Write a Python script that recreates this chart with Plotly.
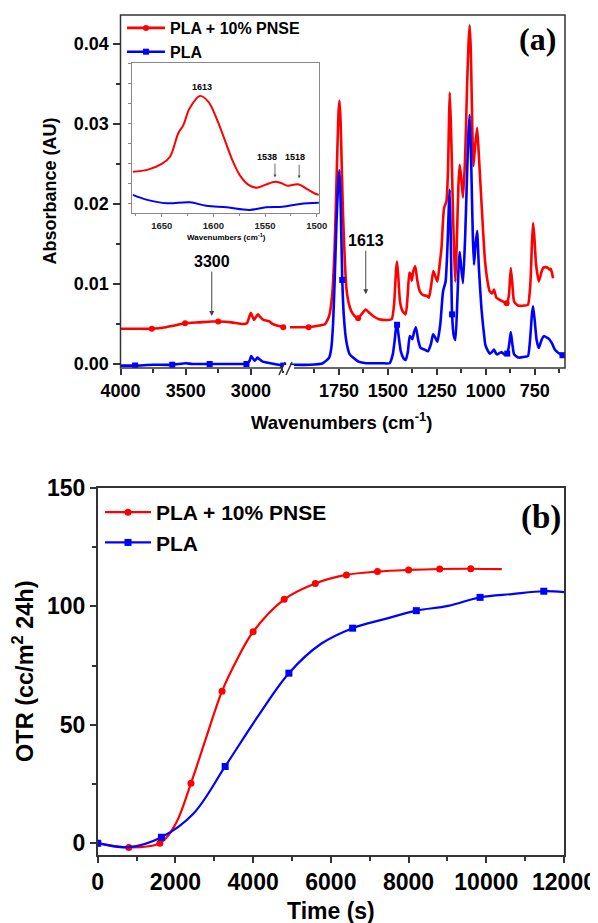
import plotly.graph_objects as go

# the page body adds an 8 px margin, so the figure is drawn 8 px smaller
# and positions below are given in window pixels minus that offset
OFF = 8
W, H = 598 - OFF, 923 - OFF


def fx(px):
    return (px - OFF) / W


def fy(py):
    return 1 - (py - OFF) / H


# ---------------- (a) FTIR spectra ----------------
wn_pnse = [4000, 3880, 3760, 3650, 3560, 3505, 3400, 3300, 3250, 3150, 3060, 3030, 3010, 3000,
           2990, 2975, 2960, 2946, 2930, 2905, 2875, 2855, 2835, 2800, 2752,
           2000, 1950, 1905, 1850, 1820, 1800, 1785, 1772, 1760, 1752, 1747, 1741, 1735, 1729,
           1720, 1712, 1700, 1687, 1670, 1652, 1635, 1613, 1595, 1570, 1545, 1500, 1480, 1468,
           1458, 1453, 1447, 1438, 1425, 1409, 1399, 1390, 1384, 1378, 1370, 1360, 1350, 1337,
           1320, 1300, 1290, 1280, 1268, 1258, 1247, 1235, 1226, 1213, 1201, 1193, 1188, 1184,
           1178, 1172, 1167, 1160, 1155, 1148, 1140, 1133, 1126, 1116, 1105, 1095, 1088, 1082,
           1076, 1069, 1063, 1055, 1044, 1035, 1022, 1005, 992, 980, 968, 958, 946, 935, 920,
           893, 882, 872, 864, 855, 835, 800, 784, 772, 764, 758, 752, 743, 729, 715, 707, 695,
           682, 675, 668, 660, 656]
ab_pnse = [0.0044, 0.0044, 0.0044, 0.0046, 0.0049, 0.0051, 0.0052, 0.0053, 0.0053, 0.0052,
           0.0050, 0.0051, 0.0060, 0.0064, 0.0060, 0.0055, 0.0059, 0.0062, 0.0059, 0.0055,
           0.0054, 0.0053, 0.0050, 0.0048, 0.0046,
           0.0046, 0.0046, 0.0046, 0.0048, 0.0050, 0.0060, 0.0085, 0.0145, 0.0250, 0.0315,
           0.0329, 0.0300, 0.0240, 0.0187, 0.0130, 0.0095, 0.0076, 0.0066, 0.0060, 0.0057,
           0.0062, 0.0068, 0.0064, 0.0059, 0.0056, 0.0055, 0.0056, 0.0075, 0.0118, 0.0128,
           0.0110, 0.0078, 0.0066, 0.0062, 0.0085, 0.0114, 0.0112, 0.0104, 0.0116, 0.0122,
           0.0105, 0.0091, 0.0086, 0.0085, 0.0083, 0.0096, 0.0116, 0.0110, 0.0103, 0.0125,
           0.0145, 0.0195, 0.0203, 0.0240, 0.0300, 0.0339, 0.0300, 0.0240, 0.0187, 0.0130,
           0.0103, 0.0150, 0.0220, 0.0249, 0.0235, 0.0208, 0.0260, 0.0350, 0.0400, 0.0423,
           0.0390, 0.0300, 0.0247, 0.0270, 0.0295, 0.0260, 0.0203, 0.0133, 0.0105, 0.0091,
           0.0088, 0.0093, 0.0083, 0.0081, 0.0079, 0.0076, 0.0085, 0.0120, 0.0100, 0.0078,
           0.0073, 0.0073, 0.0074, 0.0100, 0.0150, 0.0176, 0.0160, 0.0125, 0.0103, 0.0115,
           0.0120, 0.0121, 0.0120, 0.0118, 0.0119, 0.0112, 0.0107]
marks_pnse = [3760, 3505, 3250, 2752, 1905, 1652, 893]

wn_pla = [4000, 3888, 3750, 3603, 3500, 3450, 3316, 3150, 3060, 3034, 3010, 2998, 2985, 2970,
          2950, 2935, 2910, 2880, 2820, 2752,
          2000, 1900, 1832, 1800, 1789, 1780, 1772, 1762, 1752, 1747, 1741, 1733, 1725, 1712,
          1695, 1678, 1650, 1610, 1530, 1491, 1475, 1465, 1456, 1453, 1445, 1434, 1420, 1409,
          1398, 1388, 1380, 1375, 1366, 1357, 1345, 1333, 1312, 1295, 1280, 1269, 1258, 1247,
          1232, 1218, 1205, 1195, 1188, 1184, 1178, 1172, 1163, 1155, 1145, 1138, 1133, 1125,
          1116, 1105, 1095, 1088, 1082, 1075, 1066, 1060, 1052, 1044, 1035, 1022, 1010, 1002,
          990, 980, 968, 958, 947, 940, 920, 905, 890, 880, 872, 864, 855, 840, 831, 800, 784,
          772, 764, 758, 750, 740, 729, 715, 702, 688, 676, 660, 647, 630, 608, 595]
ab_pla = [-0.0002, -0.0002, -0.0001, -0.0001, 0.0001, 0.0000, 0.0000, 0.0000, 0.0000, 0.0000,
          0.0004, 0.0010, 0.0007, 0.0004, 0.0008, 0.0006, 0.0003, 0.0002, 0.0000, -0.0002,
          -0.0001, -0.0001, 0.0001, 0.0008, 0.0020, 0.0050, 0.0103, 0.0180, 0.0232, 0.0242,
          0.0200, 0.0105, 0.0060, 0.0028, 0.0012, 0.0008, 0.0003, 0.0001, 0.0001, 0.0001,
          0.0012, 0.0030, 0.0049, 0.0049, 0.0035, 0.0016, 0.0007, 0.0005, 0.0015, 0.0035,
          0.0033, 0.0031, 0.0040, 0.0046, 0.0030, 0.0020, 0.0018, 0.0016, 0.0025, 0.0037,
          0.0033, 0.0028, 0.0050, 0.0091, 0.0103, 0.0150, 0.0200, 0.0218, 0.0150, 0.0062,
          0.0035, 0.0030, 0.0080, 0.0125, 0.0140, 0.0120, 0.0101, 0.0160, 0.0240, 0.0290,
          0.0311, 0.0260, 0.0160, 0.0124, 0.0150, 0.0166, 0.0120, 0.0070, 0.0040, 0.0024,
          0.0017, 0.0013, 0.0015, 0.0018, 0.0013, 0.0012, 0.0015, 0.0012, 0.0013, 0.0025,
          0.0040, 0.0025, 0.0012, 0.0009, 0.0008, 0.0009, 0.0010, 0.0035, 0.0062, 0.0072,
          0.0055, 0.0030, 0.0020, 0.0030, 0.0035, 0.0033, 0.0031, 0.0025, 0.0018, 0.0014,
          0.0011, 0.0010]
marks_pla = [3888, 3603, 3316, 3034, 2752, 1733, 1453, 1172, 890, 608]

# inset, 1680-1500 cm-1 (no y scale shown)
wn_in_pnse = [1678, 1664, 1650, 1642, 1634, 1629, 1623, 1613, 1605, 1597, 1589, 1581, 1574,
              1566, 1558, 1550, 1540, 1534, 1528, 1518, 1508, 1500, 1498]
ab_in_pnse = [2.08, 2.17, 2.47, 2.83, 4.0, 4.42, 5.25, 5.87, 5.58, 4.75, 3.67, 2.58, 1.87,
              1.42, 1.28, 1.42, 1.58, 1.5, 1.38, 1.45, 1.17, 0.95, 0.93]
wn_in_pla = [1678, 1664, 1645, 1623, 1607, 1587, 1565, 1549, 1533, 1516, 1498]
ab_in_pla = [0.92, 0.67, 0.5, 0.55, 0.38, 0.3, 0.17, 0.3, 0.33, 0.47, 0.53]

# ---------------- (b) OTR ----------------
time_pnse = [0, 800, 1600, 2000, 2400, 2800, 3200, 3600, 4000, 4800, 5600, 6400, 7200, 8000,
             8800, 9600, 10400]
otr_pnse = [0, -1.8, 0, 8, 25.3, 45, 64.2, 78, 89.3, 103, 109.7, 113.3, 114.7, 115.4, 115.8,
            115.9, 115.7]
marks_time_pnse = [0, 800, 1600, 2400, 3200, 4000, 4800, 5600, 6400, 7200, 8000, 8800, 9600]

time_pla = [0, 800, 1640, 2460, 3280, 4100, 4920, 5740, 6560, 7380, 8200, 9020, 9840, 10660,
            11480, 12000]
otr_pla = [0, -1.7, 2.5, 12.4, 32.4, 53, 71.8, 84.1, 90.8, 94.6, 98.2, 100.2, 103.8, 105.2,
           106.4, 106]
marks_time_pla = [0, 1640, 3280, 4920, 6560, 8200, 9840, 11480]

RED = '#ff0000'
BLUE = '#0000ff'
AX = '#333333'
FONT = 'Liberation Sans, Arial, sans-serif'
SERIF = 'Liberation Serif, Times New Roman, serif'
BREAK = 2400


def marker_points(xs, ys, keep):
    # marker positions only, separated by gaps so no line joins them
    mx, my = [], []
    for x, y in zip(xs, ys):
        if x in keep:
            mx += [x, None]
            my += [y, None]
    return mx, my


fig = go.Figure()

spectra = [
    ('PLA + 10% PNSE', wn_pnse, ab_pnse, marks_pnse, RED, 'circle'),
    ('PLA', wn_pla, ab_pla, marks_pla, BLUE, 'square'),
]
for name, wn, ab, keep, color, symbol in spectra:
    for xa, left in (('x', True), ('x2', False)):
        xs = [w for w in wn if (w > BREAK) == left]
        ys = [a for w, a in zip(wn, ab) if (w > BREAK) == left]
        fig.add_trace(go.Scatter(x=xs, y=ys, mode='lines', xaxis=xa, yaxis='y',
                                 line=dict(color=color, width=2.6, shape='spline', smoothing=0.5),
                                 showlegend=False, hoverinfo='skip'))
        mx, my = marker_points(xs, ys, keep)
        fig.add_trace(go.Scatter(x=mx, y=my, mode='lines+markers', xaxis=xa, yaxis='y',
                                 name=name, legend='legend', showlegend=left,
                                 connectgaps=False,
                                 line=dict(color=color, width=2.6),
                                 marker=dict(symbol=symbol, size=6, color=color)))

fig.add_trace(go.Scatter(x=wn_in_pnse, y=ab_in_pnse, mode='lines', xaxis='x3', yaxis='y3',
                         line=dict(color=RED, width=2, shape='spline'), showlegend=False))
fig.add_trace(go.Scatter(x=wn_in_pla, y=ab_in_pla, mode='lines', xaxis='x3', yaxis='y3',
                         line=dict(color=BLUE, width=2, shape='spline'), showlegend=False))

otr = [
    ('PLA + 10% PNSE', time_pnse, otr_pnse, marks_time_pnse, RED, 'circle'),
    ('PLA', time_pla, otr_pla, marks_time_pla, BLUE, 'square'),
]
for name, t, v, keep, color, symbol in otr:
    fig.add_trace(go.Scatter(x=t, y=v, mode='lines', xaxis='x4', yaxis='y4',
                             line=dict(color=color, width=2.2, shape='spline'),
                             showlegend=False))
    mx, my = marker_points(t, v, keep)
    fig.add_trace(go.Scatter(x=mx, y=my, mode='lines+markers', xaxis='x4', yaxis='y4',
                             name=name, legend='legend2', connectgaps=False,
                             line=dict(color=color, width=2.2),
                             marker=dict(symbol=symbol, size=7, color=color)))

tick_a = dict(family=FONT, size=18, color='black', weight='bold')
tick_b = dict(family=FONT, size=23, color='black', weight='bold')
common = dict(showgrid=False, zeroline=False, ticks='outside', tickcolor=AX, tickwidth=1.5,
              automargin=False)

fig.update_layout(
    template='none',
    width=W, height=H,
    margin=dict(l=0, r=0, t=0, b=0, autoexpand=False),
    paper_bgcolor='white', plot_bgcolor='white',
    xaxis=dict(domain=[fx(120.5), fx(290)], range=[4000, 2700], anchor='y',
               tick0=0, dtick=500, ticklen=6, tickfont=tick_a, showline=False,
               minor=dict(dtick=250, ticks='outside', ticklen=4, tickcolor=AX, tickwidth=1.5),
               **common),
    xaxis2=dict(domain=[fx(290), fx(565)], range=[2000, 595], anchor='y',
                tickmode='array', tickvals=[1750, 1500, 1250, 1000, 750], ticklen=6,
                tickfont=tick_a, showline=False,
                minor=dict(tickmode='array', tickvals=[1875, 1625, 1375, 1125, 875, 625],
                           ticks='outside', ticklen=4, tickcolor=AX, tickwidth=1.5),
                **common),
    yaxis=dict(domain=[fy(368), fy(15)], range=[-0.0005, 0.0436], anchor='x',
               dtick=0.01, tickformat='.2f', ticklen=7, tickfont=tick_a, showline=False,
               minor=dict(dtick=0.005, ticks='outside', ticklen=4, tickcolor=AX, tickwidth=1.5),
               **common),
    xaxis3=dict(domain=[fx(132.3), fx(319.3)], range=[1678.5, 1497.5], anchor='y3',
                showgrid=False, zeroline=False, showline=True, mirror=True, automargin=False,
                linecolor='#888888', linewidth=1, ticks='outside', ticklen=3,
                tickcolor='#888888', tick0=0, dtick=50,
                minor=dict(dtick=25, ticks='outside', ticklen=2, tickcolor='#888888'),
                tickfont=dict(family=FONT, size=9.5, color='#222', weight='bold')),
    yaxis3=dict(domain=[fy(213.3), fy(63.3)], range=[0, 7.5], anchor='x3',
                showgrid=False, zeroline=False, showline=True, mirror=True, automargin=False,
                linecolor='#888888', linewidth=1, ticks='outside', ticklen=3,
                tickcolor='#888888', tick0=0.5, dtick=1, showticklabels=False),
    xaxis4=dict(domain=[fx(97.7), fx(564)], range=[0, 12000], anchor='y4',
                dtick=2000, tickformat='d', ticklen=6, tickfont=tick_b, showline=True,
                mirror=True, linecolor=AX, linewidth=1.5,
                minor=dict(dtick=1000, ticks='outside', ticklen=4, tickcolor=AX, tickwidth=1.5),
                **common),
    yaxis4=dict(domain=[fy(855), fy(488)], range=[-5, 150], anchor='x4',
                dtick=50, ticklen=6, tickfont=tick_b, showline=True, mirror=True,
                linecolor=AX, linewidth=1.5,
                minor=dict(dtick=25, ticks='outside', ticklen=4, tickcolor=AX, tickwidth=1.5),
                **common),
    legend=dict(x=fx(122), y=fy(11), xanchor='left', yanchor='top',
                bgcolor='rgba(0,0,0,0)', itemwidth=38, tracegroupgap=0,
                font=dict(family=FONT, size=16, color='black', weight='bold')),
    legend2=dict(x=fx(100), y=fy(492), xanchor='left', yanchor='top',
                 bgcolor='rgba(0,0,0,0)', itemwidth=46, tracegroupgap=0,
                 font=dict(family=FONT, size=21, color='black', weight='bold')),
)

# frame of panel (a) and the axis break marks
fig.add_shape(type='rect', xref='paper', yref='paper', x0=fx(120.5), x1=fx(565),
              y0=fy(368), y1=fy(15), line=dict(color=AX, width=1.5), layer='above')
fig.add_shape(type='rect', xref='paper', yref='paper', x0=fx(283), x1=fx(294),
              y0=fy(371), y1=fy(365), fillcolor='white', line=dict(width=0), layer='above')
for x0 in (279, 286):
    fig.add_shape(type='line', xref='paper', yref='paper', x0=fx(x0), x1=fx(x0 + 6),
                  y0=fy(375), y1=fy(362), line=dict(color=AX, width=1.5), layer='above')

ann_font = dict(family=FONT, color='black', weight='bold')
annotations = [
    dict(text='Absorbance (AU)', x=fx(49.5), y=fy(191), textangle=-90, size=18),
    dict(text='Wavenumbers (cm<sup>-1</sup>)', x=fx(341.5), y=fy(421), size=18.5),
    dict(text='Time (s)', x=fx(331), y=fy(911), size=23),
    dict(text='OTR (cc/m<sup>2</sup> 24h)', x=fx(23), y=fy(671), textangle=-90, size=23.5),
    dict(text='Wavenumbers (cm<sup>-1</sup>)', x=fx(226.7), y=fy(236.7), size=8),
]
for a in annotations:
    fig.add_annotation(text=a['text'], x=a['x'], y=a['y'], xref='paper', yref='paper',
                       xanchor='center', yanchor='middle',
                       showarrow=False, textangle=a.get('textangle', 0),
                       font=dict(size=a['size'], **ann_font))

fig.add_annotation(text='(a)', x=fx(537.5), y=fy(39), xref='paper', yref='paper',
                   xanchor='center', yanchor='middle', showarrow=False,
                   font=dict(family=SERIF, size=32, color='black', weight='bold'))
fig.add_annotation(text='(b)', x=fx(541), y=fy(517), xref='paper', yref='paper',
                   xanchor='center', yanchor='middle', showarrow=False,
                   font=dict(family=SERIF, size=33, color='black', weight='bold'))

# peak labels; the arrow runs from the label down to the band
fig.add_annotation(text='3300', x=3300, y=0.0060, ax=3300, ay=0.0128, xref='x', yref='y',
                   axref='x', ayref='y', showarrow=True, arrowhead=2, arrowsize=1,
                   arrowwidth=1, arrowcolor='#444', standoff=0,
                   font=dict(size=16, **ann_font))
fig.add_annotation(text='1613', x=1613, y=0.0087, ax=1613, ay=0.0154, xref='x2', yref='y',
                   axref='x2', ayref='y', showarrow=True, arrowhead=2, arrowsize=1,
                   arrowwidth=1, arrowcolor='#444', standoff=0,
                   font=dict(size=16, **ann_font))

fig.add_annotation(text='1613', x=1611, y=6.33, xref='x3', yref='y3', showarrow=False,
                   xanchor='center', yanchor='middle', font=dict(size=9, **ann_font))
for label, xt, xa_, tip, tail in (('1538', 1548.5, 1540.4, 1.8, 2.56),
                                  ('1518', 1521, 1517, 1.75, 2.5)):
    fig.add_annotation(text=label, x=xt, y=2.8, xref='x3', yref='y3', showarrow=False,
                       xanchor='center', yanchor='middle', font=dict(size=9, **ann_font))
    fig.add_annotation(text='', x=xa_, y=tip, ax=xa_, ay=tail, xref='x3', yref='y3',
                       axref='x3', ayref='y3', showarrow=True, arrowhead=2, arrowsize=0.7,
                       arrowwidth=0.8, arrowcolor='#444')

fig.write_html('out.html')
